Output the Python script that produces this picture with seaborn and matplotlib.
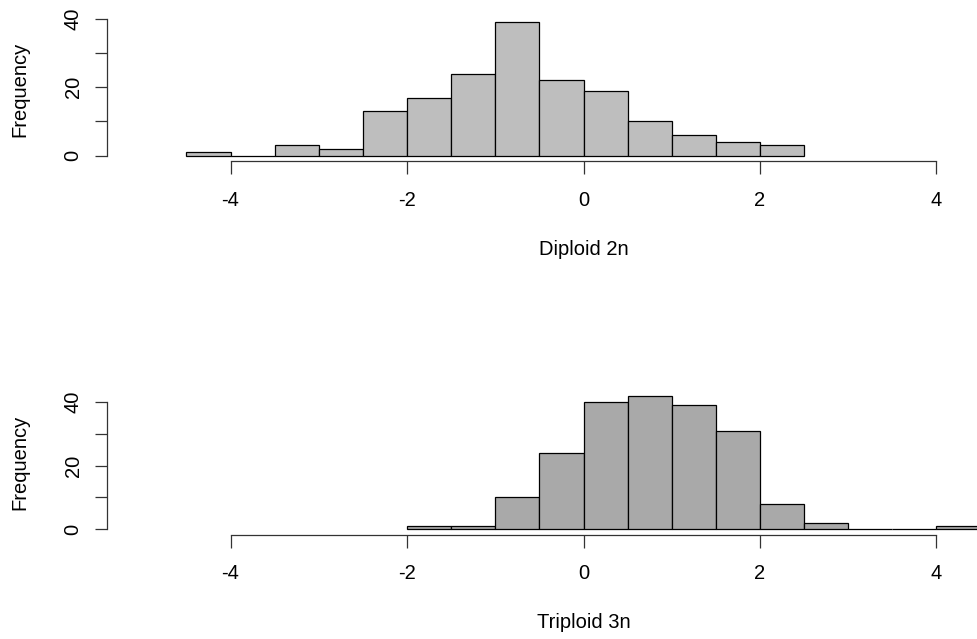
import numpy as np
import matplotlib
matplotlib.use("Agg")
import matplotlib.pyplot as plt
import seaborn as sns

# bin edges (width 0.5) and counts
diploid_edges = [-4.5, -4.0, -3.5, -3.0, -2.5, -2.0, -1.5, -1.0, -0.5, 0.0, 0.5, 1.0, 1.5, 2.0, 2.5]
diploid_counts = [1, 0, 3, 2, 13, 17, 24, 39, 22, 19, 10, 6, 4, 3]

triploid_edges = [-2.0, -1.5, -1.0, -0.5, 0.0, 0.5, 1.0, 1.5, 2.0, 2.5, 3.0, 3.5, 4.0, 4.5]
triploid_counts = [1, 1, 10, 24, 40, 42, 39, 31, 8, 2, 0, 0, 1]

x_ticks = [-4, -2, 0, 2, 4]
y_ticks = [0, 10, 20, 30, 40]
y_ticklabels = ["0", "", "20", "", "40"]

sns.set_style("ticks")
plt.rcParams["font.family"] = ["Liberation Sans", "DejaVu Sans"]
plt.rcParams["text.color"] = "black"
plt.rcParams["axes.labelcolor"] = "black"
plt.rcParams["xtick.labelcolor"] = "black"
plt.rcParams["ytick.labelcolor"] = "black"

fig = plt.figure(figsize=(9.77, 6.39), dpi=100)

W, H = 977, 639
fs = 14.5
panels = [
    (diploid_edges, diploid_counts, "#BEBEBE", "Diploid 2n", 161),
    (triploid_edges, triploid_counts, "#A9A9A9", "Triploid 3n", 534.5),
]

for edges, counts, col, label, ybot in panels:
    ax = fig.add_axes([107 / W, 1 - ybot / H, (1060 - 107) / W, 144 / H])
    mids = (np.array(edges[:-1]) + np.array(edges[1:])) / 2
    sns.histplot(x=mids, weights=counts, bins=edges, color=col, alpha=1,
                 edgecolor="black", linewidth=0.9, ax=ax)
    top = max(counts)
    ax.set_xlim(-5.4, 5.4)
    ax.set_ylim(-0.04 * top, 1.04 * top)
    ax.spines["top"].set_visible(False)
    ax.spines["right"].set_visible(False)
    ax.spines["left"].set_bounds(0, 40)
    ax.spines["bottom"].set_bounds(-4, 4)
    for s in ("left", "bottom"):
        ax.spines[s].set_linewidth(0.9)
        ax.spines[s].set_color("#333333")
    ax.set_xticks(x_ticks)
    ax.set_xticklabels([str(t) for t in x_ticks])
    ax.set_yticks(y_ticks)
    ax.set_yticklabels(y_ticklabels, rotation=90, va="center")
    ax.tick_params(axis="both", length=9, width=0.9, color="#333333",
                   labelsize=fs)
    ax.tick_params(axis="x", pad=12.5)
    ax.tick_params(axis="y", pad=8.5)
    ax.set_xlabel(label, fontsize=fs)
    ax.set_ylabel("Frequency", fontsize=fs)
    ax.xaxis.set_label_coords(0.5, -79 / 144)
    ax.yaxis.set_label_coords(-78 / 953, 0.5)

fig.savefig("out.png", dpi=100)
